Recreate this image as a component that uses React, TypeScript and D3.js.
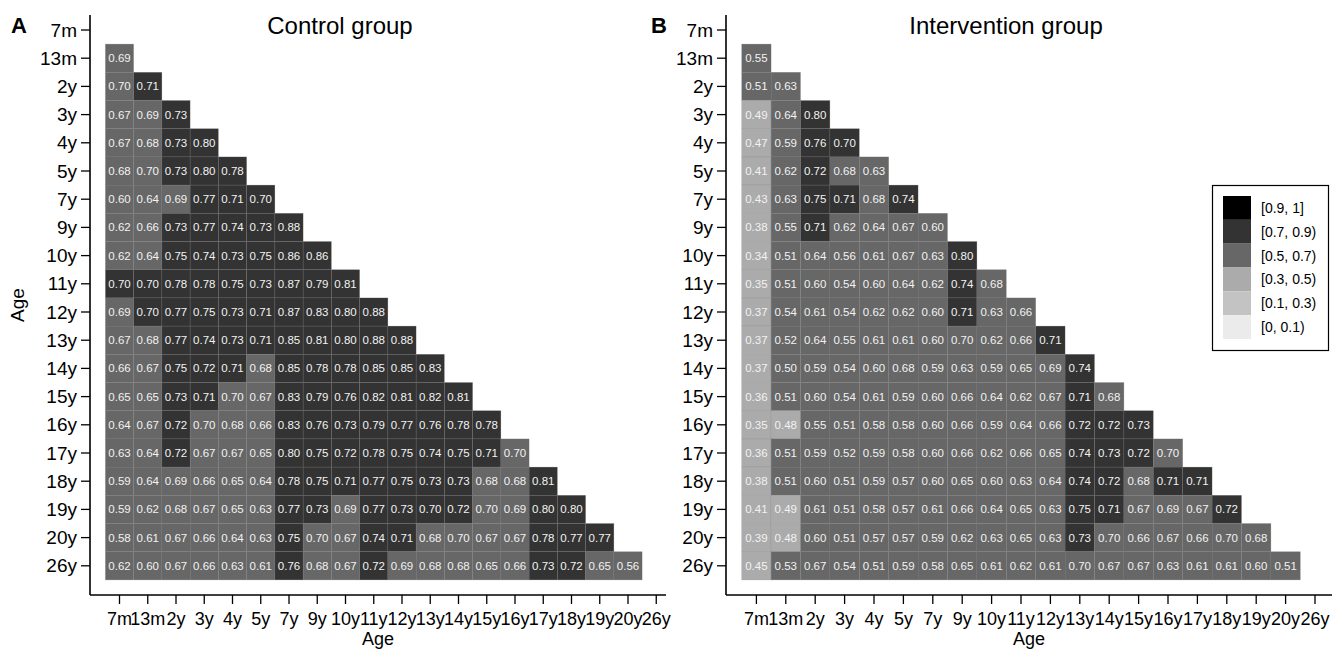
import React from "react";
import * as d3 from "d3";

const ages = ["7m","13m","2y","3y","4y","5y","7y","9y","10y","11y","12y","13y","14y","15y","16y","17y","18y","19y","20y","26y"];

// Lower-triangular correlation rows (row i has i values, columns 7m..)
// values like 0.698 print as 0.70 but fall in the [0.5,0.7) class
const controlRows: number[][] = [
  [],
  [0.69],
  [0.698,0.71],
  [0.67,0.69,0.73],
  [0.67,0.68,0.73,0.80],
  [0.68,0.698,0.73,0.80,0.78],
  [0.60,0.64,0.69,0.77,0.71,0.70],
  [0.62,0.66,0.73,0.77,0.74,0.73,0.88],
  [0.62,0.64,0.75,0.74,0.73,0.75,0.86,0.86],
  [0.70,0.70,0.78,0.78,0.75,0.73,0.87,0.79,0.81],
  [0.69,0.70,0.77,0.75,0.73,0.71,0.87,0.83,0.80,0.88],
  [0.67,0.68,0.77,0.74,0.73,0.71,0.85,0.81,0.80,0.88,0.88],
  [0.66,0.67,0.75,0.72,0.71,0.68,0.85,0.78,0.78,0.85,0.85,0.83],
  [0.65,0.65,0.73,0.71,0.698,0.67,0.83,0.79,0.76,0.82,0.81,0.82,0.81],
  [0.64,0.67,0.72,0.698,0.68,0.66,0.83,0.76,0.73,0.79,0.77,0.76,0.78,0.78],
  [0.63,0.64,0.72,0.67,0.67,0.65,0.80,0.75,0.72,0.78,0.75,0.74,0.75,0.71,0.698],
  [0.59,0.64,0.69,0.66,0.65,0.64,0.78,0.75,0.71,0.77,0.75,0.73,0.73,0.68,0.68,0.81],
  [0.59,0.62,0.68,0.67,0.65,0.63,0.77,0.73,0.69,0.77,0.73,0.70,0.72,0.698,0.69,0.80,0.80],
  [0.58,0.61,0.67,0.66,0.64,0.63,0.75,0.698,0.67,0.74,0.71,0.68,0.698,0.67,0.67,0.78,0.77,0.77],
  [0.62,0.60,0.67,0.66,0.63,0.61,0.76,0.68,0.67,0.72,0.69,0.68,0.68,0.65,0.66,0.73,0.72,0.65,0.56],
];

const interventionRows: number[][] = [
  [],
  [0.55],
  [0.51,0.63],
  [0.49,0.64,0.80],
  [0.47,0.59,0.76,0.70],
  [0.41,0.62,0.72,0.68,0.63],
  [0.43,0.63,0.75,0.71,0.68,0.74],
  [0.38,0.55,0.71,0.62,0.64,0.67,0.60],
  [0.34,0.51,0.64,0.56,0.61,0.67,0.63,0.80],
  [0.35,0.51,0.60,0.54,0.60,0.64,0.62,0.74,0.68],
  [0.37,0.54,0.61,0.54,0.62,0.62,0.60,0.71,0.63,0.66],
  [0.37,0.52,0.64,0.55,0.61,0.61,0.60,0.698,0.62,0.66,0.71],
  [0.37,0.50,0.59,0.54,0.60,0.68,0.59,0.63,0.59,0.65,0.69,0.74],
  [0.36,0.51,0.60,0.54,0.61,0.59,0.60,0.66,0.64,0.62,0.67,0.71,0.68],
  [0.35,0.48,0.55,0.51,0.58,0.58,0.60,0.66,0.59,0.64,0.66,0.72,0.72,0.73],
  [0.36,0.51,0.59,0.52,0.59,0.58,0.60,0.66,0.62,0.66,0.65,0.74,0.73,0.72,0.698],
  [0.38,0.51,0.60,0.51,0.59,0.57,0.60,0.65,0.60,0.63,0.64,0.74,0.72,0.68,0.71,0.71],
  [0.41,0.49,0.61,0.51,0.58,0.57,0.61,0.66,0.64,0.65,0.63,0.75,0.71,0.67,0.69,0.67,0.72],
  [0.39,0.48,0.60,0.51,0.57,0.57,0.59,0.62,0.63,0.65,0.63,0.73,0.698,0.66,0.67,0.66,0.698,0.68],
  [0.45,0.53,0.67,0.54,0.51,0.59,0.58,0.65,0.61,0.62,0.61,0.698,0.67,0.67,0.63,0.61,0.61,0.60,0.51],
];

const legendBreaks = [0.1, 0.3, 0.5, 0.7, 0.9];
const legendColors = ["#ebebeb", "#c3c3c3", "#ababab", "#676767", "#333333", "#000000"];
const legendLabels = ["[0.9, 1]", "[0.7, 0.9)", "[0.5, 0.7)", "[0.3, 0.5)", "[0.1, 0.3)", "[0, 0.1)"];

const color = d3.scaleThreshold<number, string>().domain(legendBreaks).range(legendColors);

const FONT = "'Liberation Sans', Arial, Helvetica, sans-serif";

type PanelProps = {
  rows: number[][];
  axisX: number;
  xStart: number;
  xStep: number;
  xEnd: number;
  title: string;
  titleX: number;
  letter: string;
  letterX: number;
  yTitle: boolean;
};

const Y0 = 30;
const YSTEP = 28.2;
const AXIS_TOP = 15;
const AXIS_BOTTOM = 595;

function Panel(p: PanelProps) {
  const x = d3.scalePoint<string>().domain(ages).range([p.xStart, p.xStart + p.xStep * (ages.length - 1)]);
  const y = d3.scalePoint<string>().domain(ages).range([Y0, Y0 + YSTEP * (ages.length - 1)]);
  const cw = p.xStep;
  const ch = YSTEP;
  const cells: React.ReactNode[] = [];
  p.rows.forEach((row, i) => {
    row.forEach((v, j) => {
      const cx = x(ages[j])!;
      const cy = y(ages[i])!;
      cells.push(
        <g key={`${i}-${j}`}>
          <rect x={cx - cw / 2} y={cy - ch / 2} width={cw} height={ch} fill={color(v)} stroke="rgba(120,120,120,0.35)" strokeWidth={0.6} />
          <text x={cx} y={cy} textAnchor="middle" dominantBaseline="central" fontSize={11.5} fill="#f2f2f2" fontFamily={FONT}>
            {v.toFixed(2)}
          </text>
        </g>
      );
    });
  });
  const midX = (p.axisX + p.xEnd) / 2;
  return (
    <g>
      {cells}
      <line x1={p.axisX} x2={p.axisX} y1={AXIS_TOP} y2={AXIS_BOTTOM} stroke="#000" strokeWidth={1.6} />
      <line x1={p.axisX} x2={p.xEnd} y1={AXIS_BOTTOM} y2={AXIS_BOTTOM} stroke="#000" strokeWidth={1.6} />
      {ages.map((a) => (
        <g key={"y" + a}>
          <line x1={p.axisX - 9} x2={p.axisX} y1={y(a)} y2={y(a)} stroke="#000" strokeWidth={1.3} />
          <text x={p.axisX - 13} y={y(a)} textAnchor="end" dominantBaseline="central" fontSize={19} fontFamily={FONT} fill="#000">
            {a}
          </text>
        </g>
      ))}
      {ages.map((a) => (
        <g key={"x" + a}>
          <line x1={x(a)} x2={x(a)} y1={AXIS_BOTTOM} y2={AXIS_BOTTOM + 9} stroke="#000" strokeWidth={1.3} />
          <text x={x(a)} y={625} textAnchor="middle" fontSize={18} fontFamily={FONT} fill="#000">
            {a}
          </text>
        </g>
      ))}
      <text x={midX} y={645} textAnchor="middle" fontSize={18} fontFamily={FONT} fill="#000">Age</text>
      {p.yTitle && (
        <text transform={`translate(24,${(AXIS_TOP + AXIS_BOTTOM) / 2}) rotate(-90)`} textAnchor="middle" fontSize={19} fontFamily={FONT} fill="#000">Age</text>
      )}
      <text x={p.titleX} y={34} textAnchor="middle" fontSize={24} fontFamily={FONT} fill="#000">{p.title}</text>
      <text x={p.letterX} y={33} fontSize={22} fontWeight="bold" fontFamily={FONT} fill="#000">{p.letter}</text>
    </g>
  );
}

function Legend() {
  const x0 = 1212.5, y0 = 185.5, w = 116, h = 165;
  const sy = d3.scaleBand<string>().domain(legendLabels).range([196, 339]);
  const rev = [...legendColors].reverse();
  return (
    <g>
      <rect x={x0} y={y0} width={w} height={h} fill="#fff" stroke="#000" strokeWidth={1.2} />
      {legendLabels.map((l, i) => (
        <g key={l}>
          <rect x={1223} y={sy(l)!} width={28} height={sy.bandwidth()} fill={rev[i]} />
          <text x={1261} y={sy(l)! + sy.bandwidth() / 2} dominantBaseline="central" fontSize={14} fontFamily={FONT} fill="#000">{l}</text>
        </g>
      ))}
    </g>
  );
}

export default function App() {
  return (
    <svg width={1334} height={650} style={{ position: "absolute", left: 0, top: 0, background: "#fff" }}>
      <rect x={0} y={0} width={1334} height={650} fill="#fff" />
      <Panel rows={controlRows} axisX={90} xStart={119.5} xStep={28.25} xEnd={666} title="Control group" titleX={340} letter="A" letterX={11} yTitle={true} />
      <Panel rows={interventionRows} axisX={726} xStart={756.4} xStep={29.4} xEnd={1332} title="Intervention group" titleX={1006} letter="B" letterX={651} yTitle={false} />
      <Legend />
    </svg>
  );
}
